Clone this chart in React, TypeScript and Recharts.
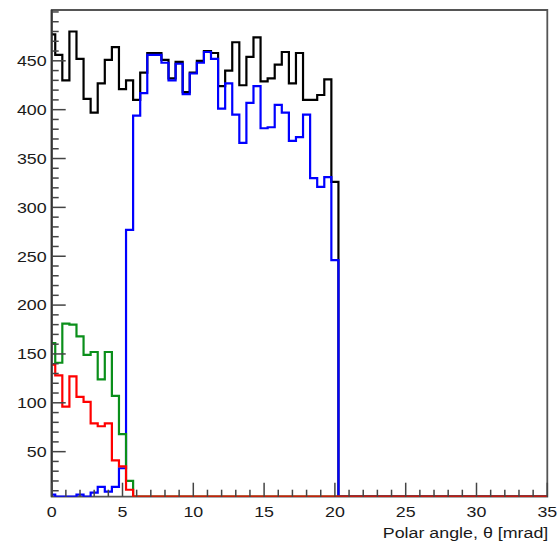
import React from "react";
import { LineChart, Line, XAxis, YAxis, ReferenceArea } from "recharts";

// histogram binning: bins centred on 0, 0.5, 1.0 ... mrad
const BIN_WIDTH = 0.5;
const N_BINS = 71;
const X_MAX = 35;
const Y_MIN = 3.9;
const Y_MAX = 502;

const X_LABELS = [0, 5, 10, 15, 20, 25, 30, 35];
const Y_LABELS = [50, 100, 150, 200, 250, 300, 350, 400, 450];

// counts per bin, starting at the bin centred on 0 mrad
const blackCounts = [
  477, 456, 430, 480, 452, 411, 397, 427, 451, 464, 421, 430, 410, 438, 458,
  458, 451, 432, 449, 418, 438, 450, 460, 458, 424, 440, 469, 425, 454, 474,
  429, 432, 446, 459, 427, 458, 410, 410, 415, 431, 326,
];
const blueCounts = [
  6, 0, 0, 0, 6, 0, 8, 14, 9, 14, 33, 277, 394, 417, 456, 456, 448, 430, 447,
  416, 437, 448, 459, 452, 401, 427, 395, 366, 407, 424, 381, 382, 405, 397,
  368, 372, 395, 330, 321, 331, 246,
];
const greenCounts = [161, 141, 181, 180, 168, 149, 152, 124, 152, 107, 68, 20];
const redCounts = [139, 128, 96, 127, 106, 101, 79, 76, 79, 41, 35, 11];

const SERIES = [
  { key: "black", counts: blackCounts, color: "#000000" },
  { key: "blue", counts: blueCounts, color: "#0000ff" },
  { key: "green", counts: greenCounts, color: "#0a8f1a" },
  { key: "red", counts: redCounts, color: "#ff0000" },
];

// empty bins sit on the frame, like ROOT does
const atFrame = (v: number) => Math.max(v, Y_MIN);

const rows: Record<string, number>[] = [];
for (let k = 0; k < N_BINS; k++) {
  const row: Record<string, number> = {
    x: Math.max(0, k * BIN_WIDTH - BIN_WIDTH / 2),
  };
  SERIES.forEach((s) => (row[s.key] = atFrame(s.counts[k] ?? 0)));
  rows.push(row);
}
rows.push({ ...rows[rows.length - 1], x: X_MAX });

const MINOR_X: number[] = [];
for (let v = 0; v <= X_MAX; v += 1) MINOR_X.push(v);
const MINOR_Y: number[] = [];
for (let v = 10; v <= 500; v += 10) MINOR_Y.push(v);

const FONT = "'Liberation Sans', Arial, Helvetica, sans-serif";
const TEXT_COLOR = "#1a1a1a";
const TICK_COLOR = "#444";
const STRETCH = 1.19;

const XTick = (props: any) => {
  const { x, y, payload } = props;
  const major = X_LABELS.includes(payload.value);
  return (
    <g>
      <line
        x1={x}
        x2={x}
        y1={y}
        y2={y - (major ? 14 : 7)}
        stroke={TICK_COLOR}
        strokeWidth={1.5}
      />
      {major && (
        <text
          transform={`translate(${x},${y + 20.6}) scale(${STRETCH},1)`}
          textAnchor="middle"
          fontFamily={FONT}
          fontSize={15}
          fill={TEXT_COLOR}
        >
          {payload.value}
        </text>
      )}
    </g>
  );
};

const YTick = (props: any) => {
  const { x, y, payload } = props;
  const major = Y_LABELS.includes(payload.value);
  return (
    <g>
      <line
        x1={x}
        x2={x + (major ? 14 : 7)}
        y1={y}
        y2={y}
        stroke={TICK_COLOR}
        strokeWidth={1.5}
      />
      {major && (
        <text
          transform={`translate(${x - 5},${y + 5.3}) scale(${STRETCH},1)`}
          textAnchor="end"
          fontFamily={FONT}
          fontSize={15}
          fill={TEXT_COLOR}
        >
          {payload.value}
        </text>
      )}
    </g>
  );
};

const AxisTitle = (props: any) => {
  const { viewBox } = props;
  const right = viewBox.x + viewBox.width;
  return (
    <text
      transform={`translate(${right + 1},${viewBox.y + 41.6}) scale(${STRETCH},1)`}
      textAnchor="end"
      fontFamily={FONT}
      fontSize={15}
      fill={TEXT_COLOR}
    >
      Polar angle, θ [mrad]
    </text>
  );
};

export default function App() {
  return (
    <div style={{ position: "absolute", left: 0, top: 0, background: "#fff" }}>
      <LineChart
        width={559}
        height={544}
        data={rows}
        margin={{ top: 10, right: 11.7, left: 0, bottom: 0 }}
      >
        <ReferenceArea
          x1={0}
          x2={X_MAX}
          y1={Y_MIN}
          y2={Y_MAX}
          fill="none"
          stroke="#555"
          strokeWidth={1.8}
          ifOverflow="visible"
        />
        <XAxis
          type="number"
          dataKey="x"
          domain={[0, X_MAX]}
          ticks={MINOR_X}
          interval={0}
          height={47.3}
          tickSize={0}
          tickMargin={0}
          tickLine={false}
          axisLine={false}
          tick={<XTick />}
          label={{ content: <AxisTitle /> }}
        />
        <YAxis
          type="number"
          domain={[Y_MIN, Y_MAX]}
          allowDataOverflow
          ticks={MINOR_Y}
          interval={0}
          width={51.7}
          tickSize={0}
          tickMargin={0}
          tickLine={false}
          axisLine={{ stroke: "#333", strokeWidth: 2 }}
          tick={<YTick />}
        />
        {SERIES.map((s) => (
          <Line
            key={s.key}
            type="stepAfter"
            dataKey={s.key}
            stroke={s.color}
            strokeWidth={2.2}
            dot={false}
            activeDot={false}
            isAnimationActive={false}
            strokeLinejoin="miter"
          />
        ))}
      </LineChart>
    </div>
  );
}
